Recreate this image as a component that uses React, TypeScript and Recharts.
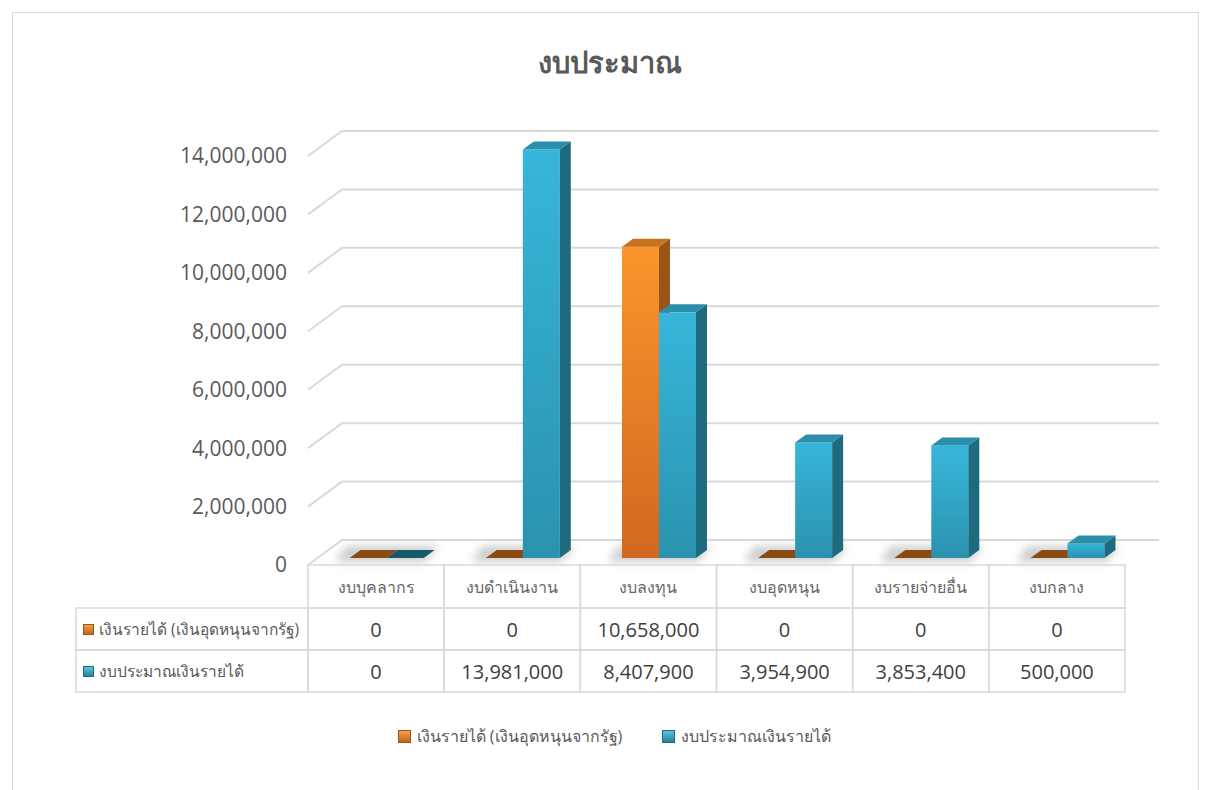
import React from 'react';
import { Bar, BarChart, CartesianGrid, Legend, XAxis, YAxis } from 'recharts';

const categories = ['งบบุคลากร', 'งบดำเนินงาน', 'งบลงทุน', 'งบอุดหนุน', 'งบรายจ่ายอื่น', 'งบกลาง'];
const seriesNames = ['เงินรายได้ (เงินอุดหนุนจากรัฐ)', 'งบประมาณเงินรายได้'];
const grantValues = [0, 0, 10658000, 0, 0, 0];
const budgetValues = [0, 13981000, 8407900, 3954900, 3853400, 500000];
const yTicks = [0, 2000000, 4000000, 6000000, 8000000, 10000000, 12000000, 14000000];

const data = categories.map((name, i) => ({ name, grant: grantValues[i], budget: budgetValues[i] }));
const seriesValues = [grantValues, budgetValues];

const W = 1209;
const H = 790;
const FONT = "'Open Sans', 'Noto Sans', sans-serif";
const Y_AXIS_W = 308;
const MARGIN = { top: 156, right: 84, bottom: 0, left: 0 };
const CELL_W = (W - Y_AXIS_W - MARGIN.right) / categories.length;
const HEAD_H = 43;
const ROW_H = 42;
const LEGEND_H = 98;
const ROW_LEFT = 76;
const LINE = '#d9d9d9';

// back wall offset and bar placement inside the 3d box
const WALL_DX = 34;
const WALL_DY = 25;
const BAR_DX = 11;
const BAR_DY = -7;
const DEPTH_X = 11;
const DEPTH_Y = 8;

const palettes = [
  { front: 'url(#orangeFront)', side: '#9c5317', top: '#c8711f', flat: '#8a4a12', key: 'url(#keyOrange)', keyStroke: '#9c5317' },
  { front: 'url(#blueFront)', side: '#1e6b80', top: '#2a8faa', flat: '#17596b', key: 'url(#keyBlue)', keyStroke: '#1e6b80' },
];

const fmt = (v: number) => v.toLocaleString('en-US');

function Bar3D(props: any) {
  const { x, y, width, height, series } = props;
  const pal = palettes[series];
  const fx = x + BAR_DX;
  const fy = y + BAR_DY;
  const topFace = `${fx},${fy} ${fx + DEPTH_X},${fy - DEPTH_Y} ${fx + width + DEPTH_X},${fy - DEPTH_Y} ${fx + width},${fy}`;
  const shadow =
    series === 0 ? (
      <polygon
        points={`${fx - 14},${fy + height + 4} ${fx - 4},${fy + height - DEPTH_Y - 4} ${fx + width * 2 + DEPTH_X + 4},${fy + height - DEPTH_Y - 4} ${fx + width * 2 + 2},${fy + height + 4}`}
        fill="#8a8a8a"
        opacity={0.42}
        filter="url(#soft)"
      />
    ) : null;
  if (!height || height < 0.5) {
    return (
      <g>
        {shadow}
        <polygon points={topFace} fill={pal.flat} />
      </g>
    );
  }
  const side = `${fx + width},${fy} ${fx + width + DEPTH_X},${fy - DEPTH_Y} ${fx + width + DEPTH_X},${fy + height - DEPTH_Y} ${fx + width},${fy + height}`;
  return (
    <g>
      {shadow}
      <rect x={fx} y={fy} width={width} height={height} fill={pal.front} />
      <polygon points={side} fill={pal.side} />
      <polygon points={topFace} fill={pal.top} />
    </g>
  );
}

function KeySquare({ series, size }: { series: number; size: number }) {
  const pal = palettes[series];
  return (
    <svg width={size} height={size} style={{ display: 'block' }}>
      <rect x={0.5} y={0.5} width={size - 1} height={size - 1} fill={pal.key} stroke={pal.keyStroke} strokeWidth={1} />
    </svg>
  );
}

function HeaderTick(props: any) {
  const { x, y, payload } = props;
  return (
    <g>
      <rect x={x - CELL_W / 2} y={y} width={CELL_W} height={HEAD_H} fill="none" stroke={LINE} strokeWidth={1.5} />
      <text x={x} y={y + HEAD_H / 2} textAnchor="middle" dominantBaseline="central" fontSize={16} fill="#666666" fontFamily={FONT}>
        {payload.value}
      </text>
    </g>
  );
}

const makeValueTick = (series: number) =>
  function ValueTick(props: any) {
    const { x, y, payload } = props;
    const idx = payload.index ?? props.index;
    const left = x - CELL_W / 2;
    return (
      <g>
        {idx === 0 && (
          <g>
            <rect x={ROW_LEFT} y={y} width={left - ROW_LEFT} height={ROW_H} fill="none" stroke={LINE} strokeWidth={1.5} />
            <foreignObject x={ROW_LEFT + 7} y={y} width={left - ROW_LEFT - 8} height={ROW_H}>
              <div style={{ display: 'flex', alignItems: 'center', height: ROW_H, gap: 5, fontFamily: FONT, fontSize: 15.5, color: '#595959', whiteSpace: 'nowrap' }}>
                <KeySquare series={series} size={11} />
                <span>{seriesNames[series]}</span>
              </div>
            </foreignObject>
          </g>
        )}
        <rect x={left} y={y} width={CELL_W} height={ROW_H} fill="none" stroke={LINE} strokeWidth={1.5} />
        <text x={x} y={y + ROW_H / 2} textAnchor="middle" dominantBaseline="central" fontSize={20} fill="#404040" fontFamily={FONT}>
          {fmt(seriesValues[series][idx])}
        </text>
      </g>
    );
  };

const GrantTick = makeValueTick(0);
const BudgetTick = makeValueTick(1);

function WallLine(props: any) {
  const { x1, y1, x2, index } = props;
  return (
    <path
      key={`wall-${index}-${y1}`}
      d={`M${x1},${y1} L${x1 + WALL_DX},${y1 - WALL_DY} L${x2 + WALL_DX},${y1 - WALL_DY}`}
      fill="none"
      stroke={LINE}
      strokeWidth={2}
    />
  );
}

function LegendContent() {
  return (
    <div style={{ width: W, height: LEGEND_H, boxSizing: 'border-box' }}>
      <div style={{ display: 'flex', justifyContent: 'center', alignItems: 'center', gap: 40, paddingTop: 32, paddingLeft: 20, fontFamily: FONT, fontSize: 16, color: '#595959' }}>
        {seriesNames.map((n, i) => (
          <div key={n} style={{ display: 'flex', alignItems: 'center', gap: 6 }}>
            <KeySquare series={i} size={13} />
            <span>{n}</span>
          </div>
        ))}
      </div>
    </div>
  );
}

export default function App() {
  return (
    <div style={{ position: 'absolute', left: 0, top: 0, width: W, height: H, overflow: 'hidden', background: '#fff', fontFamily: FONT }}>
      <svg width={0} height={0} style={{ position: 'absolute' }}>
        <defs>
          <linearGradient id="orangeFront" x1="0" y1="0" x2="0" y2="1">
            <stop offset="0" stopColor="#fb952c" />
            <stop offset="1" stopColor="#d0681f" />
          </linearGradient>
          <linearGradient id="blueFront" x1="0" y1="0" x2="0" y2="1">
            <stop offset="0" stopColor="#37b6da" />
            <stop offset="1" stopColor="#2a92ae" />
          </linearGradient>
          <linearGradient id="keyOrange" x1="0" y1="0" x2="0" y2="1">
            <stop offset="0" stopColor="#f7a24a" />
            <stop offset="1" stopColor="#c0621c" />
          </linearGradient>
          <linearGradient id="keyBlue" x1="0" y1="0" x2="0" y2="1">
            <stop offset="0" stopColor="#5cc6e4" />
            <stop offset="1" stopColor="#237f98" />
          </linearGradient>
          <filter id="soft" x="-50%" y="-200%" width="200%" height="500%">
            <feGaussianBlur stdDeviation="4" />
          </filter>
        </defs>
      </svg>
      <div style={{ position: 'absolute', left: 12, top: 12, width: 1185, height: 820, border: `1px solid ${LINE}` }} />
      <div style={{ position: 'absolute', left: 0, top: 40, width: 1220, textAlign: 'center', fontSize: 29, fontWeight: 700, color: '#595959', fontFamily: FONT }}>
        งบประมาณ
      </div>
      <BarChart
        width={W}
        height={H}
        data={data}
        margin={MARGIN}
        barCategoryGap="22.5%"
        barGap={0}
        style={{ position: 'absolute', left: 0, top: 0 }}
      >
        <CartesianGrid xAxisId="head" vertical={false} horizontal={WallLine as any} />
        <YAxis
          width={Y_AXIS_W}
          domain={[0, 14000000]}
          ticks={yTicks}
          interval={0}
          tickFormatter={fmt}
          tick={{ fill: '#595959', fontSize: 21, fontFamily: FONT }}
          tickLine={false}
          axisLine={false}
          tickSize={0}
          tickMargin={21}
        />
        <XAxis xAxisId="head" dataKey="name" height={HEAD_H} interval={0} tick={HeaderTick} tickLine={false} axisLine={false} tickSize={0} tickMargin={0} />
        <XAxis xAxisId="r1" dataKey="name" height={ROW_H} interval={0} tick={GrantTick} tickLine={false} axisLine={false} tickSize={0} tickMargin={0} />
        <XAxis xAxisId="r2" dataKey="name" height={ROW_H} interval={0} tick={BudgetTick} tickLine={false} axisLine={false} tickSize={0} tickMargin={0} />
        <Bar xAxisId="head" dataKey="grant" name={seriesNames[0]} isAnimationActive={false} minPointSize={0} shape={(p: any) => <Bar3D {...p} series={0} />} />
        <Bar xAxisId="head" dataKey="budget" name={seriesNames[1]} isAnimationActive={false} minPointSize={0} shape={(p: any) => <Bar3D {...p} series={1} />} />
        <Legend verticalAlign="bottom" wrapperStyle={{ left: 0, width: W }} content={() => <LegendContent />} />
      </BarChart>
    </div>
  );
}
